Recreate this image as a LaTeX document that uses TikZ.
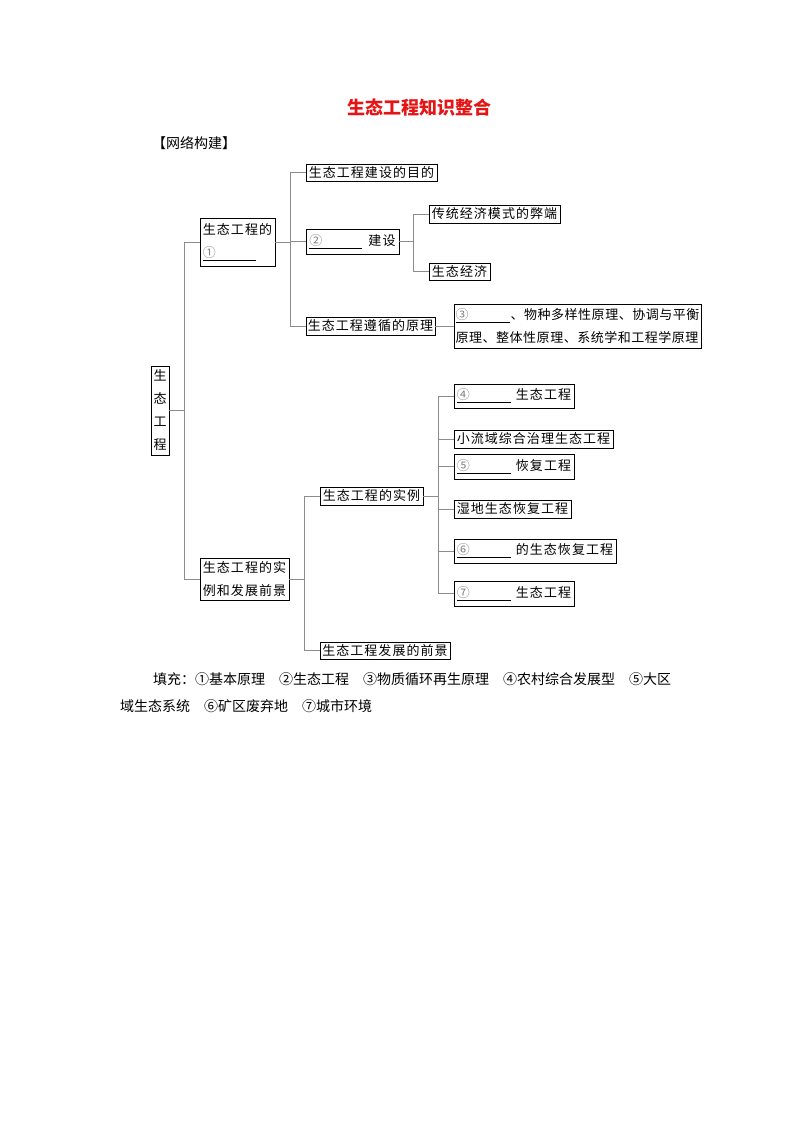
\documentclass[tikz,border=0pt]{standalone}
\usepackage{fontspec}
\setmainfont{Noto Sans CJK SC}
\newfontfamily\bxfont[LetterSpace=8]{Noto Sans CJK SC}
\newfontfamily\bxfontn[LetterSpace=4]{Noto Sans CJK SC}
\usetikzlibrary{shadows}
\definecolor{lngray}{gray}{0.55}
\definecolor{titlered}{RGB}{230,20,20}
\newcommand\cnum[1]{\textcolor{black!50}{#1}}
\tikzset{
  bx/.style={draw=black, line width=0.6pt, fill=white, inner xsep=1pt, inner ysep=0pt,
    font=\bxfont\fontsize{13}{23}\selectfont, align=left,
    drop shadow={shadow xshift=1pt, shadow yshift=-1pt, opacity=1, fill=black}},
  ln/.style={draw=lngray, line width=0.6pt},
  plain/.style={inner sep=0pt, anchor=west}
}
\begin{document}
\begin{tikzpicture}[x=1pt,y=-1pt]
\useasboundingbox (0,0) rectangle (800,1132);
% title
\node[inner sep=0pt, text=titlered, font=\bfseries\fontsize{18}{20}\selectfont] (title) at (419,108) {生态工程知识整合};
\node[plain, font=\fontsize{14}{16}\selectfont] (sec) at (152,143) {【网络构建】};
% trunk x positions
\coordinate (t1) at (184,0);
\coordinate (t2) at (290,0);
\coordinate (t3) at (413,0);
\coordinate (t4) at (304,0);
\coordinate (t5) at (438,0);
% boxes
\node[bx, align=center, minimum width=18pt, minimum height=89pt] (root) at (160,410.5) {生\\态\\工\\程};
\node[bx, minimum width=75pt, minimum height=48pt] (A) at (237.5,242) {生态工程的\\\underline{\cnum{①}\hspace{40pt}}};
\node[bx, minimum width=89pt, minimum height=42pt] (B) at (244.5,579) {生态工程的实\\例和发展前景};
\node[bx, minimum width=131pt, minimum height=17pt] (A1) at (371.5,172.5) {生态工程建设的目的};
\node[bx, minimum width=93pt, minimum height=25pt] (A2) at (352.5,241.5) {\underline{\cnum{②}\hspace{40pt}}\hspace{6pt}建设};
\node[bx, minimum width=129pt, minimum height=18pt] (A3) at (370.5,326) {生态工程遵循的原理};
\node[bx, minimum width=131pt, minimum height=18pt] (A21) at (494.5,214) {传统经济模式的弊端};
\node[bx, minimum width=61pt, minimum height=17pt] (A22) at (459.5,271.5) {生态经济};
\node[bx, font=\bxfontn\fontsize{13}{23}\selectfont, minimum width=247pt, minimum height=44pt] (A31) at (577.5,326) {\underline{\cnum{③}\hspace{41pt}}\hspace{1pt}、物种多样性原理、协调与平衡\\原理、整体性原理、系统学和工程学原理};
\node[bx, minimum width=103pt, minimum height=18pt] (B1) at (371.5,496) {生态工程的实例};
\node[bx, minimum width=130pt, minimum height=17pt] (B2) at (385,650.5) {生态工程发展的前景};
\node[bx, minimum width=120pt, minimum height=24pt] (C1) at (514,396) {\underline{\cnum{④}\hspace{41pt}}\hspace{5pt}生态工程};
\node[bx, minimum width=159pt, minimum height=18pt] (C2) at (533.5,439) {小流域综合治理生态工程};
\node[bx, minimum width=120pt, minimum height=25pt] (C3) at (514,466.5) {\underline{\cnum{⑤}\hspace{41pt}}\hspace{5pt}恢复工程};
\node[bx, minimum width=117pt, minimum height=18pt] (C4) at (512.5,509) {湿地生态恢复工程};
\node[bx, minimum width=162pt, minimum height=24pt] (C5) at (535,551) {\underline{\cnum{⑥}\hspace{41pt}}\hspace{5pt}的生态恢复工程};
\node[bx, minimum width=120pt, minimum height=25pt] (C6) at (514,593.5) {\underline{\cnum{⑦}\hspace{41pt}}\hspace{5pt}生态工程};
% connectors
\draw[ln] (root.east) -- (root.east -| t1);
\draw[ln] (A.west) -- (A.west -| t1) -- (B.west -| t1) -- (B.west);
\draw[ln] (A.east) -- (A.east -| t2);
\draw[ln] (A1.west) -- (A1.west -| t2) -- (A3.west -| t2) -- (A3.west);
\draw[ln] (A2.west) -- (A2.west -| t2);
\draw[ln] (A2.east) -- (A2.east -| t3);
\draw[ln] (A21.west) -- (A21.west -| t3) -- (A22.west -| t3) -- (A22.west);
\draw[ln] (A3.east) -- (A31.west);
\draw[ln] (B.east) -- (B.east -| t4);
\draw[ln] (B1.west) -- (B1.west -| t4) -- (B2.west -| t4) -- (B2.west);
\draw[ln] (B1.east) -- (B1.east -| t5);
\draw[ln] (C1.west) -- (C1.west -| t5) -- (C6.west -| t5) -- (C6.west);
\draw[ln] (C2.west) -- (C2.west -| t5);
\draw[ln] (C3.west) -- (C3.west -| t5);
\draw[ln] (C4.west) -- (C4.west -| t5);
\draw[ln] (C5.west) -- (C5.west -| t5);
% fill-in answers
\node[plain, font=\fontsize{14}{16}\selectfont] (ans1) at (153,679) {填充：①基本原理\hspace{14pt}②生态工程\hspace{14pt}③物质循环再生原理\hspace{14pt}④农村综合发展型\hspace{14pt}⑤大区};
\node[plain, font=\fontsize{14}{16}\selectfont] (ans2) at (120,706) {域生态系统\hspace{14pt}⑥矿区废弃地\hspace{14pt}⑦城市环境};
\end{tikzpicture}
\end{document}
